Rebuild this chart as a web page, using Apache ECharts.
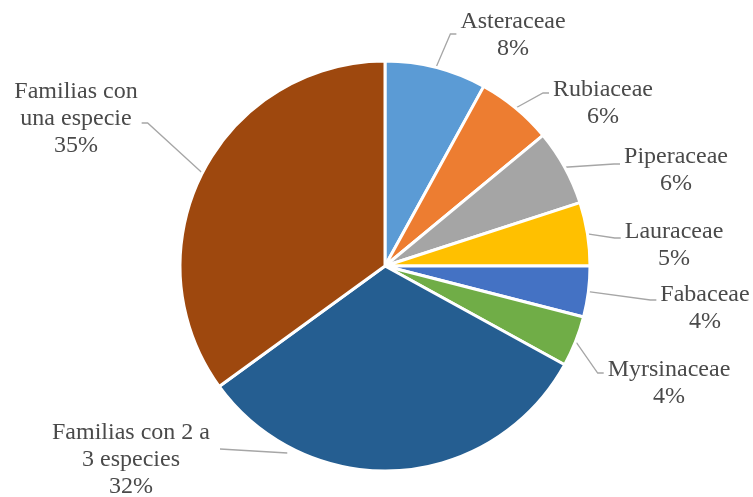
<!DOCTYPE html>
<html>
<head>
<meta charset="utf-8">
<script src="https://cdn.jsdelivr.net/npm/echarts@6/dist/echarts.min.js"></script>
<style>
  html, body { margin: 0; padding: 0; background: #ffffff; }
  #chart { width: 753px; height: 497px; }
</style>
</head>
<body>
<div id="chart"></div>
<script>
// Plant families and their share of species (%)
const families = [
  'Asteraceae',
  'Rubiaceae',
  'Piperaceae',
  'Lauraceae',
  'Fabaceae',
  'Myrsinaceae',
  'Familias con 2 a\n3 especies',
  'Familias con\nuna especie'
];
const shares = [8, 6, 6, 5, 4, 4, 32, 35];
const colors = ['#5B9BD5', '#ED7D31', '#A5A5A5', '#FFC000', '#4472C4', '#70AD47', '#255E91', '#9E480E'];

// Label placement: block centre x, first-line centre y, leader end y
const labelSpots = [
  { x: 513, y: 22, lineY: 34 },
  { x: 603, y: 90, lineY: 93 },
  { x: 676, y: 157, lineY: 164 },
  { x: 674, y: 232, lineY: 238 },
  { x: 705, y: 295, lineY: 300 },
  { x: 669, y: 370, lineY: 373 },
  { x: 131, y: 433, lineY: 449, horizontal: true },
  { x: 76, y: 92, lineY: 123 }
];

const CX = 385, CY = 266, R = 205, LH = 27;
const SERIF = 'serif';

const chart = echarts.init(document.getElementById('chart'), null, { renderer: 'canvas' });

chart.setOption({
  animation: false,
  backgroundColor: '#ffffff',
  textStyle: { fontFamily: SERIF },
  series: [{
    type: 'pie',
    center: [CX, CY],
    radius: R,
    startAngle: 90,
    clockwise: true,
    avoidLabelOverlap: false,
    emphasis: { disabled: true },
    data: families.map((name, i) => ({ name: name, value: shares[i], itemStyle: { color: colors[i] } })),
    itemStyle: { borderColor: '#ffffff', borderWidth: 3 },
    label: {
      show: true,
      position: 'outside',
      formatter: p => p.name + '\n' + p.value + '%',
      fontFamily: SERIF,
      fontSize: 24,
      lineHeight: LH,
      color: '#4a4a4a'
    },
    labelLine: {
      show: true,
      length: 10,
      length2: 6,
      lineStyle: { color: '#a6a6a6', width: 1.3 }
    },
    labelLayout: function (p) {
      const s = labelSpots[p.dataIndex];
      const w = p.labelRect.width;
      const onRight = s.x > CX;
      const edge = onRight ? s.x - w / 2 - 4 : s.x + w / 2 + 4;
      let pts;
      if (s.horizontal) {
        const rr = R + 6;
        const dy = s.lineY + 4 - CY;
        const start = [CX - Math.sqrt(rr * rr - dy * dy), s.lineY + 4];
        pts = [start, [edge + 6, s.lineY]];
      } else {
        const start = p.labelLinePoints ? p.labelLinePoints[0] : [CX, CY];
        const bend = [edge + (onRight ? -6 : 6), s.lineY];
        pts = [start, bend, [edge, s.lineY]];
      }
      return {
        x: s.x,
        y: s.y - LH / 2,
        align: 'center',
        verticalAlign: 'top',
        labelLinePoints: pts
      };
    }
  }]
});
</script>
</body>
</html>
